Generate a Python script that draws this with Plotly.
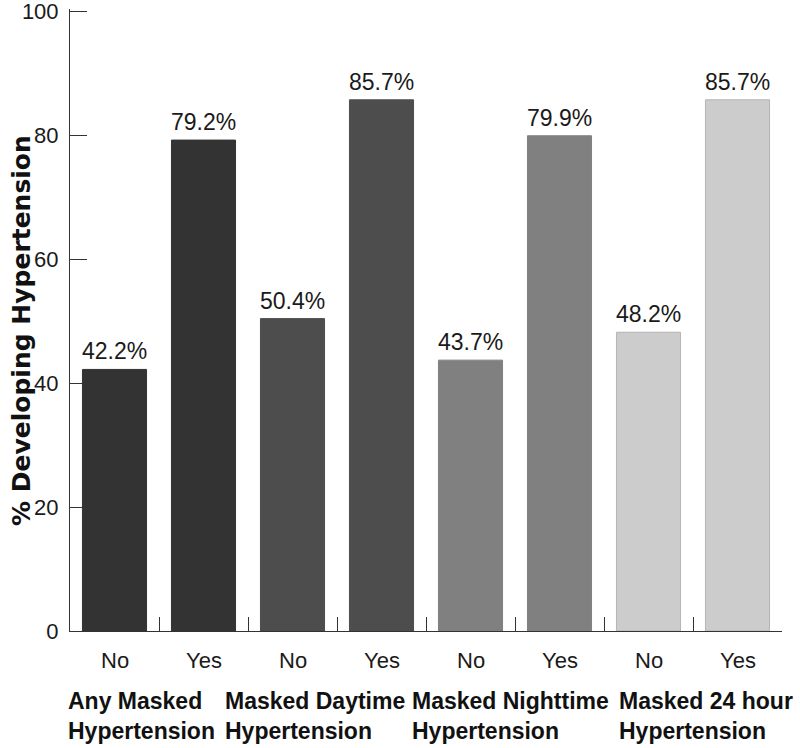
import plotly.graph_objects as go

categories = ["No", "Yes", "No", "Yes", "No", "Yes", "No", "Yes"]
values = [42.2, 79.2, 50.4, 85.7, 43.7, 79.9, 48.2, 85.7]
value_labels = ["42.2%", "79.2%", "50.4%", "85.7%", "43.7%", "79.9%", "48.2%", "85.7%"]
bar_colors = ["#333333", "#333333", "#4d4d4d", "#4d4d4d", "#808080", "#808080", "#cccccc", "#cccccc"]
edge_colors = ["#333333", "#333333", "#4d4d4d", "#4d4d4d", "#808080", "#808080", "#b4b4b4", "#b4b4b4"]
groups = ["Any Masked<br>Hypertension", "Masked Daytime<br>Hypertension",
          "Masked Nighttime<br>Hypertension", "Masked 24 hour<br>Hypertension"]
group_x = [-0.52, 1.24, 3.34, 5.67]
y_ticks = [0, 20, 40, 60, 80, 100]

FONT = "Liberation Sans, Arial, sans-serif"
xs = list(range(len(values)))
n = len(values)

fig = go.Figure()
fig.add_trace(go.Bar(
    x=xs, y=values, width=0.72,
    marker=dict(color=bar_colors, line=dict(color=edge_colors, width=1)),
    showlegend=False, hoverinfo="skip",
))

annotations = []
for x, v, t in zip(xs, values, value_labels):
    annotations.append(dict(x=x, y=v, xref="x", yref="y", text=t, showarrow=False,
                            yanchor="bottom", yshift=3,
                            font=dict(family=FONT, size=23, color="#1a1a1a")))
for x, c in zip(xs, categories):
    annotations.append(dict(x=x, y=0, xref="x", yref="paper", text=c, showarrow=False,
                            yanchor="middle", yshift=-29,
                            font=dict(family=FONT, size=22, color="#1a1a1a")))
for gx, g in zip(group_x, groups):
    annotations.append(dict(x=(gx + 0.5) / n, y=0, xref="paper", yref="paper",
                            text="<b>" + g + "</b>",
                            showarrow=False, xanchor="left", yanchor="top", align="left",
                            yshift=-55, xshift=-2,
                            font=dict(family=FONT, size=23, color="#111111")))
annotations.append(dict(x=0, y=0.5, xref="paper", yref="paper",
                        text="<b>% Developing Hypertension</b>", textangle=-90,
                        showarrow=False, xanchor="center", yanchor="middle", xshift=-49, yshift=-11,
                        font=dict(family="DejaVu Sans, sans-serif", size=25, color="#111111")))

fig.update_layout(
    width=800, height=748,
    margin=dict(l=70, r=18, t=9, b=117),
    plot_bgcolor="white", paper_bgcolor="white",
    annotations=annotations,
    xaxis=dict(range=[-0.5, n - 0.5], tickvals=[0.5 + i for i in range(n)],
               showticklabels=False, ticks="inside", ticklen=14, tickcolor="#333333",
               showline=True, linecolor="#333333", linewidth=1, automargin=False,
               showgrid=False, zeroline=False),
    yaxis=dict(range=[0, 100.35], tickvals=y_ticks, ticks="inside", ticklen=17,
               tickcolor="#333333", showline=True, linecolor="#333333", linewidth=1,
               showgrid=False, zeroline=False, ticklabelstandoff=6, automargin=False,
               ticklabeloverflow="allow",
               tickfont=dict(family=FONT, size=22, color="#1a1a1a")),
)

fig.write_html("out.html", config={"displayModeBar": False},
               post_script="document.body.style.margin='0';document.body.style.overflow='hidden';")
